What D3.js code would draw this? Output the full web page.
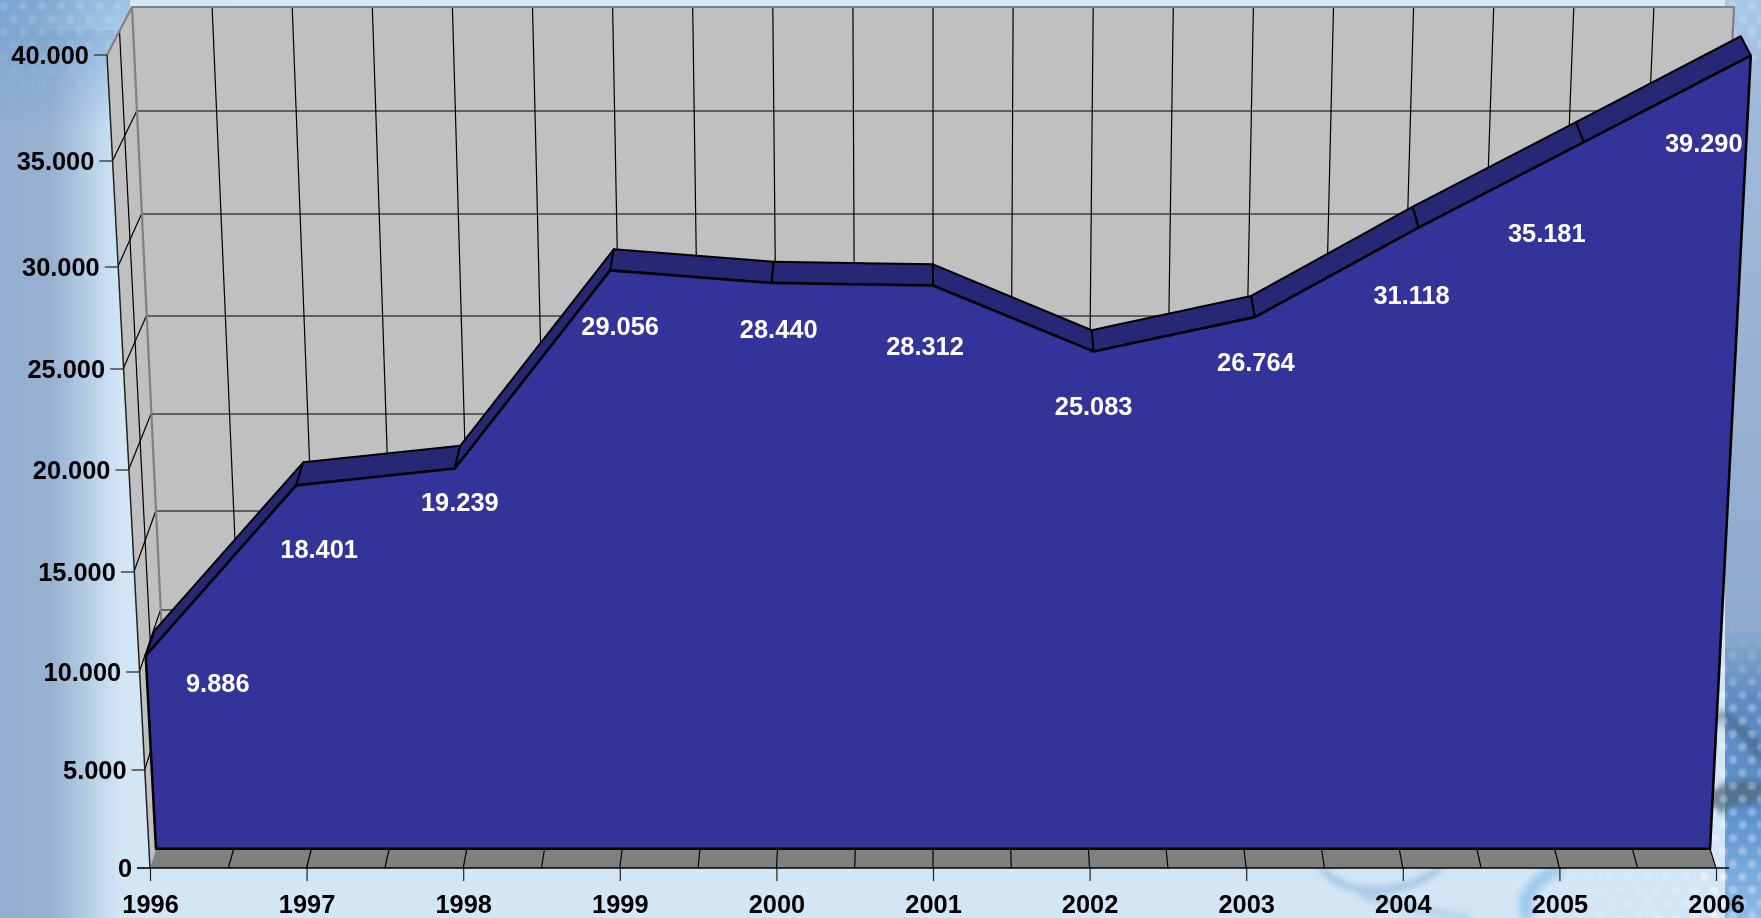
<!DOCTYPE html>
<html>
<head>
<meta charset="utf-8">
<script src="https://cdn.jsdelivr.net/npm/d3@7"></script>
<style>
  html, body { margin: 0; padding: 0; background: #d3e6f6; overflow: hidden; }
  text { font-family: "Liberation Sans", Arial, sans-serif; font-weight: bold; font-size: 25.4px; }
</style>
</head>
<body>
<div id="chart"></div>
<script>
// chart data
const years = [1996, 1997, 1998, 1999, 2000, 2001, 2002, 2003, 2004, 2005, 2006];
const values = [9886, 18401, 19239, 29056, 28440, 28312, 25083, 26764, 31118, 35181, 39290];
const yTicks = [0, 5000, 10000, 15000, 20000, 25000, 30000, 35000, 40000];

// label nudges from the point, by hand
const labelDx = [72, 23, 5, 10, 7, -8, 0, 1, -7, -37, -47];
const labelDy = [27, 64, 34, 56, 46, 60, 55, 45, 67, 91, 87];

const width = 1761, height = 918;
const centerX = 933;
const maxV = 40000;

const fmt = d3.formatLocale({ decimal: ',', thousands: '.', grouping: [3], currency: ['', ''] }).format(',d');

// the 3d box is faked with one scale per plane, z=0 is front, z=1 is the back wall
const yFront = d3.scaleLinear().domain(yTicks).range([868, 770, 672, 572, 470, 369, 267, 161, 55]);
const yBack = d3.scaleLinear().domain(yTicks).range([804, 706, 610, 511, 414, 316, 214, 111, 7]);
const leftFront = d3.scaleLinear().domain([0, maxV]).range([150, 107]);
const leftBack = d3.scaleLinear().domain([0, maxV]).range([170, 132]);
const yearPos = d3.scaleLinear().domain([years[0], years[years.length - 1]]).range([0, 1]);

const mix = (a, b, t) => a + (b - a) * t;

function project(year, v, z) {
  const left = mix(leftFront(v), leftBack(v), z);
  const right = 2 * centerX - left;
  return [mix(left, right, yearPos(year)), mix(yFront(v), yBack(v), z)];
}

const zFace = 0.3, zRear = 0.7;
const halfYears = d3.range(years[0], years[years.length - 1] + 0.5, 0.5);

const svg = d3.select('#chart')
  .append('svg')
  .attr('width', width)
  .attr('height', height)
  .style('display', 'block');

const defs = svg.append('defs');

function addGrad(id, stops, vertical) {
  const g = defs.append('linearGradient').attr('id', id);
  if (vertical) g.attr('x2', 0).attr('y2', 1);
  stops.forEach(s => {
    g.append('stop').attr('offset', s[0]).attr('stop-color', s[1]).attr('stop-opacity', s[2] === undefined ? 1 : s[2]);
  });
}

function addFadeMask(id, x, y, w, h, gradId) {
  defs.append('mask').attr('id', id).attr('maskUnits', 'userSpaceOnUse')
    .attr('x', x).attr('y', y).attr('width', w).attr('height', h)
    .append('rect').attr('x', x).attr('y', y).attr('width', w).attr('height', h)
    .attr('fill', `url(#${gradId})`);
}

// background stuff
addGrad('leftBand', [[0, '#93aed0'], [0.42, '#97b1d1'], [0.62, '#aac3de'], [0.85, '#c4daef'], [1, '#d3e6f6']]);
addGrad('topFade', [[0, '#6f9fd2', 0.75], [1, '#6f9fd2', 0]], true);
addGrad('topLight', [[0, '#d3e8f7', 0], [0.25, '#d6e9f7', 1]]);
addGrad('rightBand', [[0, '#a9c8e6'], [0.1, '#a0bada'], [0.45, '#97b0d1'], [0.68, '#8fabcf'], [0.76, '#5f8dc2'], [0.88, '#5a90cc'], [1, '#8dbce8']], true);
addGrad('fadeDown', [[0, '#fff', 1], [1, '#fff', 0]], true);
addGrad('fadeUp', [[0, '#fff', 0], [0.3, '#fff', 1], [1, '#fff', 1]], true);
addGrad('fadeLeft', [[0, '#fff', 0], [1, '#fff', 1]]);

addFadeMask('maskTop', 0, 0, 120, 110, 'fadeDown');
addFadeMask('maskRight', 1700, 620, 61, 298, 'fadeUp');
addFadeMask('maskBottom', 1500, 868, 230, 50, 'fadeLeft');

const dots = defs.append('pattern')
  .attr('id', 'dots')
  .attr('patternUnits', 'userSpaceOnUse')
  .attr('width', 19)
  .attr('height', 26);
dots.append('circle').attr('cx', 4).attr('cy', 6).attr('r', 4.2).attr('fill', '#fff');
dots.append('circle').attr('cx', 13.5).attr('cy', 19).attr('r', 4.2).attr('fill', '#fff');

const soft = defs.append('filter').attr('id', 'soft').attr('x', '-20%').attr('y', '-20%').attr('width', '140%').attr('height', '140%');
soft.append('feGaussianBlur').attr('stdDeviation', 3);
const softer = defs.append('filter').attr('id', 'softer');
softer.append('feGaussianBlur').attr('stdDeviation', 1.2);

const bg = svg.append('g');
bg.append('rect').attr('width', width).attr('height', height).attr('fill', '#d3e6f6');
bg.append('rect').attr('width', 122).attr('height', height).attr('fill', 'url(#leftBand)');
bg.append('rect').attr('width', 130).attr('height', 130).attr('fill', 'url(#topFade)');
bg.append('rect').attr('width', width).attr('height', 30).attr('fill', 'url(#topLight)');
bg.append('rect').attr('x', 1725).attr('width', 36).attr('height', height).attr('fill', 'url(#rightBand)');
bg.append('rect').attr('width', 120).attr('height', 110).attr('fill', 'url(#dots)').attr('opacity', 0.16).attr('mask', 'url(#maskTop)').attr('filter', 'url(#softer)');
bg.append('rect').attr('x', 1725).attr('y', 0).attr('width', 36).attr('height', 60).attr('fill', 'url(#dots)').attr('opacity', 0.18).attr('filter', 'url(#softer)');

// swirls at the bottom right
const swirls = bg.append('g').attr('fill', 'none').attr('filter', 'url(#soft)');
swirls.append('path').attr('d', 'M1718,715 C1740,725 1755,740 1761,760').attr('stroke', '#4a6a8e').attr('stroke-width', 12).attr('opacity', 0.7);
swirls.append('path').attr('d', 'M1712,805 C1730,790 1750,790 1761,795').attr('stroke', '#50697f').attr('stroke-width', 24).attr('opacity', 0.75);
swirls.append('path').attr('d', 'M1322,868 C1340,895 1400,900 1440,868').attr('stroke', '#8fb4dd').attr('stroke-width', 7).attr('opacity', 0.7);
swirls.append('path').attr('d', 'M1360,895 C1400,905 1440,915 1470,918').attr('stroke', '#a9c8e6').attr('stroke-width', 8).attr('opacity', 0.7);
swirls.append('path').attr('d', 'M1560,868 C1525,885 1520,905 1530,918').attr('stroke', '#8ac0ec').attr('stroke-width', 14).attr('opacity', 0.7);

bg.append('rect').attr('x', 1700).attr('y', 620).attr('width', 61).attr('height', 298).attr('fill', 'url(#dots)').attr('opacity', 0.3).attr('mask', 'url(#maskRight)').attr('filter', 'url(#softer)');
bg.append('rect').attr('x', 1500).attr('y', 868).attr('width', 230).attr('height', 50).attr('fill', 'url(#dots)').attr('opacity', 0.25).attr('mask', 'url(#maskBottom)').attr('filter', 'url(#softer)');

const polyLine = d3.line();
const line3 = (a, b) => polyLine([project(a[0], a[1], a[2]), project(b[0], b[1], b[2])]);

const y0 = years[0], y1 = years[years.length - 1];

const box = svg.append('g');

// back wall, left wall and floor
box.append('path')
  .attr('d', polyLine([project(y0, 0, 1), project(y0, maxV, 1), project(y1, maxV, 1), project(y1, 0, 1)]) + 'Z')
  .attr('fill', '#c0c0c0');
box.append('path')
  .attr('d', polyLine([project(y0, 0, 0), project(y0, maxV, 0), project(y0, maxV, 1), project(y0, 0, 1)]) + 'Z')
  .attr('fill', '#c0c0c0');
box.append('path')
  .attr('d', polyLine([project(y0, 0, 0), project(y1, 0, 0), project(y1, 0, 1), project(y0, 0, 1)]) + 'Z')
  .attr('fill', '#808080');

const gridColor = '#000';

// wall grid
box.selectAll('.wall-h')
  .data(yTicks.slice(1, -1))
  .enter().append('path')
  .attr('d', v => line3([y0, v, 1], [y1, v, 1]))
  .attr('stroke', gridColor).attr('stroke-width', 1.2);

box.selectAll('.wall-v')
  .data(halfYears.slice(1, -1))
  .enter().append('path')
  .attr('d', y => line3([y, 0, 1], [y, maxV, 1]))
  .attr('stroke', gridColor).attr('stroke-width', 1.2);

// side wall grid
box.selectAll('.side-h')
  .data(yTicks.slice(1, -1))
  .enter().append('path')
  .attr('d', v => line3([y0, v, 0], [y0, v, 1]))
  .attr('stroke', gridColor).attr('stroke-width', 1.2);

box.append('path').attr('d', line3([y0, 0, 0.5], [y0, maxV, 0.5]))
  .attr('stroke', gridColor).attr('stroke-width', 1.2);

// floor grid
box.selectAll('.floor-v')
  .data(halfYears.slice(1))
  .enter().append('path')
  .attr('d', y => line3([y, 0, 0], [y, 0, 1]))
  .attr('stroke', gridColor).attr('stroke-width', 1.2);

// gray frame of the walls
const frame = '#808080';
box.append('path')
  .attr('d', polyLine([project(y0, maxV, 0), project(y0, maxV, 1), project(y1, maxV, 1), project(y1, 0, 1)]))
  .attr('fill', 'none').attr('stroke', frame).attr('stroke-width', 2.2);
box.append('path').attr('d', line3([y0, 0, 1], [y0, maxV, 1]))
  .attr('stroke', frame).attr('stroke-width', 2.2);
box.append('path').attr('d', line3([y0, 0, 0], [y0, maxV, 0]))
  .attr('stroke', '#222').attr('stroke-width', 1.5);

// top ribbon of the area
const area = svg.append('g');
const segs = d3.pairs(d3.zip(years, values));

area.selectAll('.ribbon')
  .data(segs)
  .enter().append('path')
  .attr('class', 'ribbon')
  .attr('d', d => polyLine([
    project(d[0][0], d[0][1], zFace),
    project(d[1][0], d[1][1], zFace),
    project(d[1][0], d[1][1], zRear),
    project(d[0][0], d[0][1], zRear)
  ]) + 'Z')
  .attr('fill', '#272775')
  .attr('stroke', '#000')
  .attr('stroke-width', 2)
  .attr('stroke-linejoin', 'round');

// front of the area
const facePts = [project(y0, 0, zFace)]
  .concat(years.map((y, i) => project(y, values[i], zFace)))
  .concat([project(y1, 0, zFace)]);

area.append('path')
  .attr('d', polyLine(facePts) + 'Z')
  .attr('fill', '#333399')
  .attr('stroke', '#000')
  .attr('stroke-width', 2.6)
  .attr('stroke-linejoin', 'round');

// data labels
svg.append('g').selectAll('text')
  .data(values)
  .enter().append('text')
  .attr('x', (v, i) => project(years[i], v, zFace)[0] + labelDx[i])
  .attr('y', (v, i) => project(years[i], v, zFace)[1] + labelDy[i] + 9)
  .attr('text-anchor', 'middle')
  .attr('fill', '#fff')
  .text(v => fmt(v));

// x axis sits on the front edge of the floor so a normal axis works
const xAxisScale = d3.scaleLinear().domain([y0, y1]).range([project(y0, 0, 0)[0], project(y1, 0, 0)[0]]);
const xAxis = svg.append('g')
  .attr('transform', `translate(0,${yFront(0)})`)
  .call(d3.axisBottom(xAxisScale).tickValues(years).tickFormat(d3.format('d')).tickSize(13).tickSizeOuter(0));
xAxis.select('.domain').remove();
xAxis.selectAll('.tick line').attr('stroke', '#222').attr('stroke-width', 1.2);
xAxis.selectAll('.tick text')
  .attr('y', 45).attr('dy', 0)
  .attr('fill', '#000')
  .style('font-size', '25.4px');
xAxis.attr('font-family', null).attr('font-size', null);

svg.append('path')
  .attr('d', polyLine([[project(y0, 0, 0)[0] - 13, yFront(0)], [project(y1, 0, 0)[0] + 13, yFront(0)]]))
  .attr('stroke', '#000').attr('stroke-width', 1.3);

// y axis leans with the front edge, ticks by hand
const yAxis = svg.append('g');
yAxis.selectAll('line')
  .data(yTicks)
  .enter().append('line')
  .attr('x1', v => leftFront(v) - 13)
  .attr('x2', v => leftFront(v))
  .attr('y1', v => yFront(v))
  .attr('y2', v => yFront(v))
  .attr('stroke', '#222').attr('stroke-width', 1.2);
yAxis.selectAll('text')
  .data(yTicks)
  .enter().append('text')
  .attr('x', v => leftFront(v) - 18)
  .attr('y', v => yFront(v) + 8.5)
  .attr('text-anchor', 'end')
  .attr('fill', '#000')
  .text(v => fmt(v));
</script>
</body>
</html>
